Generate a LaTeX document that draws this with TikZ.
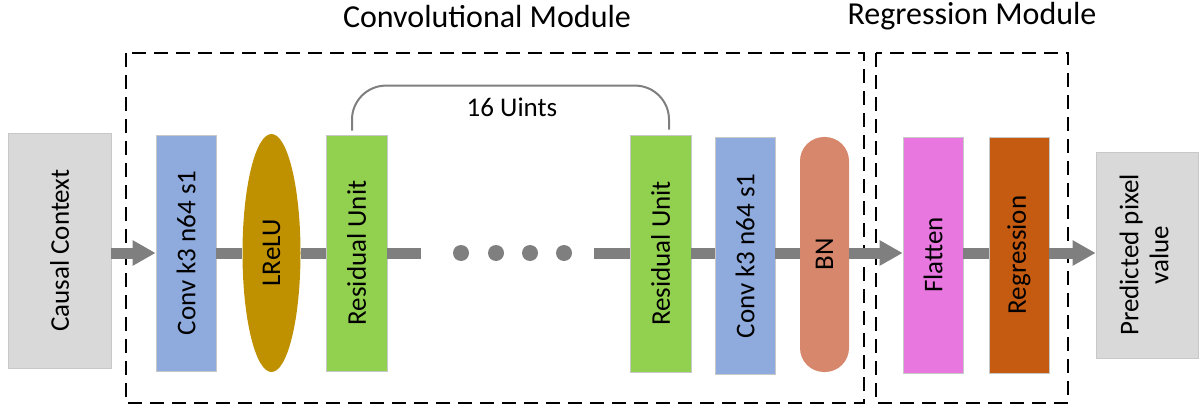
\documentclass[tikz,border=0pt]{standalone}
\usepackage{fontspec}
\setmainfont{Carlito}
\usetikzlibrary{arrows.meta,shapes.geometric}
\definecolor{boxgray}{HTML}{D9D9D9}
\definecolor{convblue}{HTML}{8FAADC}
\definecolor{lrelucol}{HTML}{BF9000}
\definecolor{resgreen}{HTML}{92D050}
\definecolor{bnsalmon}{HTML}{D6876C}
\definecolor{flatpink}{HTML}{E878DF}
\definecolor{regorange}{HTML}{C55A11}
\definecolor{arrgray}{HTML}{7F7F7F}
\definecolor{edgecol}{HTML}{C8C8C8}
\newcommand{\vtxt}[1]{\rotatebox{90}{#1}}
\begin{document}
\begin{tikzpicture}[x=1pt,y=-1pt,
  layer/.style={draw=edgecol,line width=0.8pt,minimum width=60pt,minimum height=236pt,inner sep=0pt,
    font=\fontsize{27}{32}\selectfont},
  conn/.style={draw=arrgray,line width=11pt},
  connarrow/.style={conn,-{Triangle[length=23pt,width=24pt]}},
  dotnode/.style={circle,fill=arrgray,minimum size=16pt,inner sep=0pt},
  dashbox/.style={draw=black,line width=1.8pt,dash pattern=on 14pt off 8pt},
  bracketline/.style={draw=arrgray,line width=2pt,rounded corners=34pt},
  title/.style={font=\fontsize{32}{38}\selectfont,inner sep=0pt},
  lbl/.style={font=\fontsize{27}{32}\selectfont,inner sep=0pt}
]
\useasboundingbox (0,0) rectangle (1202,409);

% module frames
\draw[dashbox] (126,53) rectangle (864,403);
\draw[dashbox] (876,53) rectangle (1068,403);
\node[title] (tconv) at (487,17) {Convolutional Module};
\node[title] (treg) at (972,16) {Regression Module};

% layers
\node[layer,fill=boxgray,minimum width=103pt,minimum height=235pt] (causal) at (59.5,250.5) {\vtxt{Causal Context}};
\node[layer,fill=convblue] (conv1) at (186,253) {\vtxt{Conv k3 n64 s1}};
\node[layer,ellipse,draw=none,fill=lrelucol,minimum width=58pt,minimum height=238pt] (lrelu) at (271.5,253) {\vtxt{LReLU}};
\node[layer,fill=resgreen,minimum width=61pt] (res1) at (356.5,253) {\vtxt{Residual Unit}};
\node[layer,fill=resgreen,minimum width=61pt,minimum height=237pt] (res2) at (660.5,253.5) {\vtxt{Residual Unit}};
\node[layer,fill=convblue,minimum height=237pt] (conv2) at (745,256) {\vtxt{Conv k3 n64 s1}};
\node[layer,fill=bnsalmon,draw=none,minimum width=49pt,minimum height=235pt,rounded corners=24pt] (bn) at (824.5,254.5) {\vtxt{BN}};
\node[layer,fill=flatpink] (flatten) at (933,255) {\vtxt{Flatten}};
\node[layer,fill=regorange] (regr) at (1019,255) {\vtxt{Regression}};
\node[layer,fill=boxgray,minimum width=102pt,minimum height=206pt] (pred) at (1147,255)
  {\vtxt{\begin{tabular}{@{}c@{}}Predicted pixel\\[-2pt]value\end{tabular}}};

% dots and stubs
\coordinate (stubA) at (421,253);
\coordinate (stubB) at (594,253);
\node[dotnode] (d1) at (461,253) {};
\node[dotnode] (d2) at (496,253) {};
\node[dotnode] (d3) at (530,253) {};
\node[dotnode] (d4) at (564,253) {};

% connectors
\draw[connarrow] (causal.east |- conv1.west) -- (conv1.west);
\draw[conn] (conv1.east) -- (lrelu.west);
\draw[conn] (lrelu.east) -- (res1.west);
\draw[conn] (res1.east) -- (stubA);
\draw[conn] (stubB) -- (res2.west |- stubB);
\draw[conn] (res2.east |- stubB) -- (conv2.west |- stubB);
\draw[conn] (conv2.east |- stubB) -- (bn.west |- stubB);
\draw[connarrow] (bn.east |- stubB) -- (flatten.west |- stubB);
\draw[conn] (flatten.east |- stubB) -- (regr.west |- stubB);
\draw[connarrow] (regr.east |- stubB) -- (pred.west |- stubB);

% 16 units bracket
\draw[bracketline] ([xshift=-4.5pt,yshift=4pt]res1.north) -- ++(0,-45) -| ([xshift=8.5pt,yshift=5pt]res2.north);
\node[lbl] (units) at (512,107) {16 Uints};
\end{tikzpicture}
\end{document}
